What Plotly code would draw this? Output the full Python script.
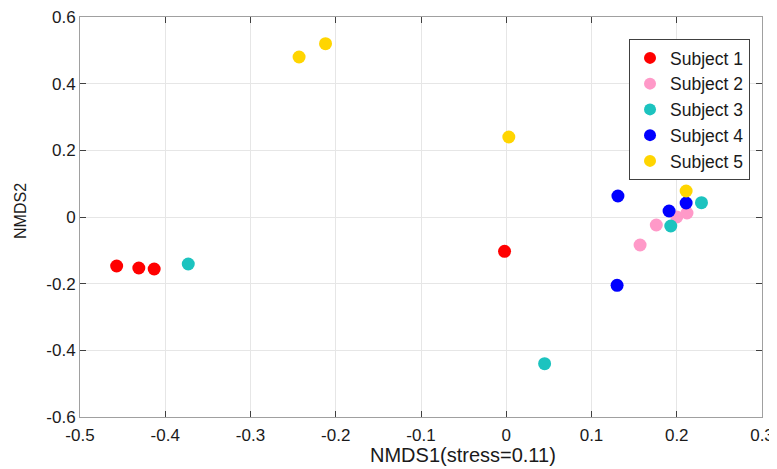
import plotly.graph_objects as go

subjects = ["Subject 1", "Subject 2", "Subject 3", "Subject 4", "Subject 5"]
colors = ["#FF0000", "#FF99C8", "#1CC3BF", "#0000FF", "#FFD500"]
x_vals = [
    [-0.457, -0.431, -0.413, -0.002],
    [0.157, 0.176, 0.200, 0.212],
    [-0.373, 0.045, 0.193, 0.229],
    [0.131, 0.130, 0.191, 0.211],
    [-0.243, -0.212, 0.003, 0.211],
]
y_vals = [
    [-0.147, -0.153, -0.156, -0.103],
    [-0.084, -0.024, 0.000, 0.012],
    [-0.141, -0.440, -0.027, 0.043],
    [0.063, -0.205, 0.018, 0.042],
    [0.480, 0.520, 0.240, 0.078],
]
x_ticks = [-0.5, -0.4, -0.3, -0.2, -0.1, 0, 0.1, 0.2, 0.3]
x_ticktext = ["-0.5", "-0.4", "-0.3", "-0.2", "-0.1", "0", "0.1", "0.2", "0.3"]
y_ticks = [-0.6, -0.4, -0.2, 0, 0.2, 0.4, 0.6]
y_ticktext = ["-0.6", "-0.4", "-0.2", "0", "0.2", "0.4", "0.6"]
x_title = "NMDS1(stress=0.11)"
y_title = "NMDS2"

fig = go.Figure()
for name, c, xs, ys in zip(subjects, colors, x_vals, y_vals):
    fig.add_trace(go.Scatter(x=xs, y=ys, mode="markers", name=name,
                             marker=dict(color=c, size=13, line=dict(width=0))))

font = "Liberation Sans, Arial, sans-serif"
axis_common = dict(
    showgrid=True, gridcolor="#E6E6E6", gridwidth=1, automargin=False,
    zeroline=False, showline=True, linecolor="#A0A0A0", linewidth=1,
    mirror="ticks", ticks="inside", ticklen=6, tickcolor="#404040",
    ticklabeloverflow="allow",
    tickfont=dict(family=font, size=17, color="#1a1a1a"),
)
fig.update_layout(
    width=777, height=469,
    paper_bgcolor="white", plot_bgcolor="white",
    margin=dict(l=72, r=23, t=9, b=60),
    font=dict(family=font, color="#1a1a1a"),
    xaxis=dict(range=[-0.5, 0.3], tickvals=x_ticks, ticktext=x_ticktext,
               ticklabelstandoff=3, **axis_common),
    yaxis=dict(range=[-0.6, 0.6], tickvals=y_ticks, ticktext=y_ticktext,
               **axis_common),
    legend=dict(x=0.805, y=0.945, xanchor="left", yanchor="top",
                bgcolor="white", bordercolor="#404040", borderwidth=1,
                font=dict(family=font, size=17.5, color="#1a1a1a"),
                itemsizing="constant", itemwidth=30, tracegroupgap=0),
    showlegend=True,
    annotations=[
        dict(text=x_title, xref="paper", yref="paper", x=0.5616, y=-0.095,
             xanchor="center", yanchor="middle", showarrow=False,
             font=dict(family=font, size=20, color="#1a1a1a")),
        dict(text=y_title, xref="paper", yref="paper", x=-0.088, y=0.515,
             xanchor="center", yanchor="middle", showarrow=False, textangle=-90,
             font=dict(family=font, size=16, color="#1a1a1a")),
    ],
)
fig.write_html("out.html")
